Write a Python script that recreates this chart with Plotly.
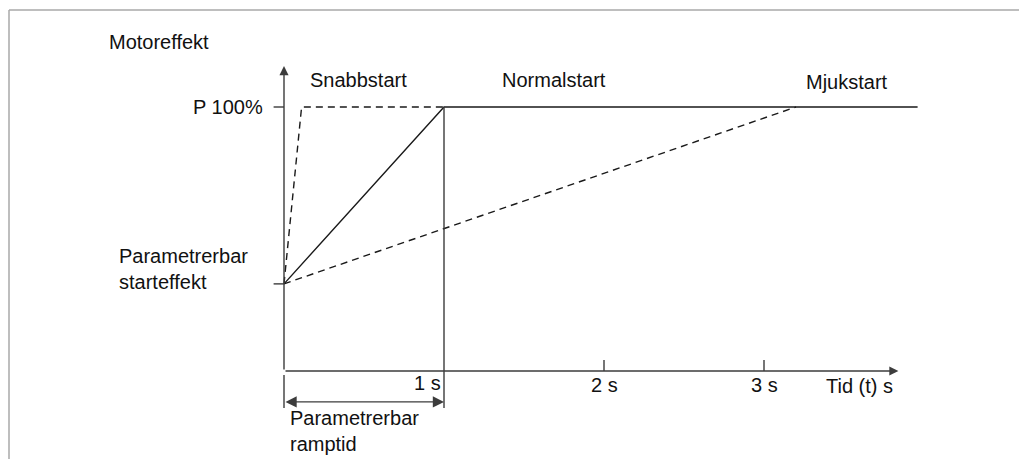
"""Motoreffekt vs tid: snabbstart, normalstart och mjukstart."""

import plotly.graph_objects as go

# power in % of nominal, time in seconds
P_FULL = 100
P_START = 33
RAMP_END = 1.0

snabb_t = [0, 0.11, 1.0]
snabb_p = [P_START, P_FULL, P_FULL]

normal_t = [0, RAMP_END, 3.96]
normal_p = [P_START, P_FULL, P_FULL]

mjuk_t = [0, 3.2]
mjuk_p = [P_START, P_FULL]

tick_times = [1, 2, 3]
tick_labels = ["1 s", "2 s", "3 s"]

AXIS_COLOR = "#3c3c3c"
LINE_COLOR = "#1a1a1a"
TEXT_COLOR = "#111111"
FONT = "Liberation Sans, Arial, sans-serif"
FS = 20

fig = go.Figure()


def line(x, y, dash="solid", color=LINE_COLOR, width=1.4):
    fig.add_trace(
        go.Scatter(
            x=x, y=y, mode="lines", hoverinfo="skip",
            line=dict(color=color, width=width, dash=dash),
        )
    )


line(snabb_t, snabb_p, dash="7px,5px")
line(mjuk_t, mjuk_p, dash="7px,5px")
line(normal_t, normal_p)
# vertical line at end of ramp, extended down to the dimension line
line([RAMP_END, RAMP_END], [P_FULL, -14], color=AXIS_COLOR)
# left extension line of the dimension
line([0, 0], [-1.5, -14], color=AXIS_COLOR)
# y ticks
for p in [P_FULL, P_START]:
    line([-0.065, 0], [p, p], color=AXIS_COLOR)
# x ticks at 2 s and 3 s
for t in tick_times[1:]:
    line([t, t], [0, 4.2], color=AXIS_COLOR)

arrows = [
    # y axis
    dict(x=0, y=115.5, ax=0, ay=0, arrowside="end", arrowsize=1.3),
    # x axis
    dict(x=3.84, y=0, ax=0, ay=0, arrowside="end", arrowsize=1.3),
    # ramp time dimension
    dict(x=RAMP_END, y=-11.7, ax=0, ay=-11.7, arrowside="end+start",
         arrowsize=1.6, startarrowsize=1.6),
]
for a in arrows:
    fig.add_annotation(
        text="", showarrow=True, xref="x", yref="y", axref="x", ayref="y",
        arrowhead=2, arrowwidth=1.4, arrowcolor=AXIS_COLOR,
        standoff=0, startstandoff=0, startarrowhead=2,
        **a,
    )

labels = [
    ("Motoreffekt", -1.106, 124.6, "left"),
    ("Snabbstart", 0.15, 110.2, "left"),
    ("Normalstart", 1.69, 110.2, "center"),
    ("Mjukstart", 3.52, 109.5, "center"),
    ("P 100%", -0.119, P_FULL, "right"),
    ("Parametrerbar<br>starteffekt", -1.044, 38.5, "left"),
    ("Tid (t) s", 3.82, -5.7, "right"),
    ("Parametrerbar<br>ramptid", 0.025, -22.6, "left"),
]
for t, lab in zip(tick_times, tick_labels):
    if t == RAMP_END:
        labels.append((lab, t - 0.006, -4.5, "right"))
    else:
        labels.append((lab, t, -5.3, "center"))

for text, x, y, anchor in labels:
    fig.add_annotation(
        text=text, x=x, y=y, xref="x", yref="y", showarrow=False,
        xanchor=anchor, yanchor="middle", align="left",
        font=dict(family=FONT, size=FS, color=TEXT_COLOR),
    )

# grey frame around the figure (top and left edges visible)
FRAME = "#a9a9a9"
fig.add_shape(type="line", xref="paper", yref="paper",
              x0=9 / 1019, x1=1.0, y0=1 - 10 / 459, y1=1 - 10 / 459,
              line=dict(color=FRAME, width=1.5))
fig.add_shape(type="line", xref="paper", yref="paper",
              x0=9 / 1019, x1=9 / 1019, y0=0, y1=1 - 10 / 459,
              line=dict(color=FRAME, width=1.5))

fig.update_layout(
    width=1019, height=459,
    margin=dict(l=0, r=0, t=0, b=0),
    paper_bgcolor="white", plot_bgcolor="white",
    showlegend=False,
    xaxis=dict(visible=False, range=[-1.775, 4.59375], fixedrange=True),
    yaxis=dict(visible=False, range=[-33.333, 140.53], fixedrange=True),
    hovermode=False,
)

fig.write_html(
    "out.html",
    config={"displayModeBar": False},
    post_script="document.body.style.margin = '0px';",
)
